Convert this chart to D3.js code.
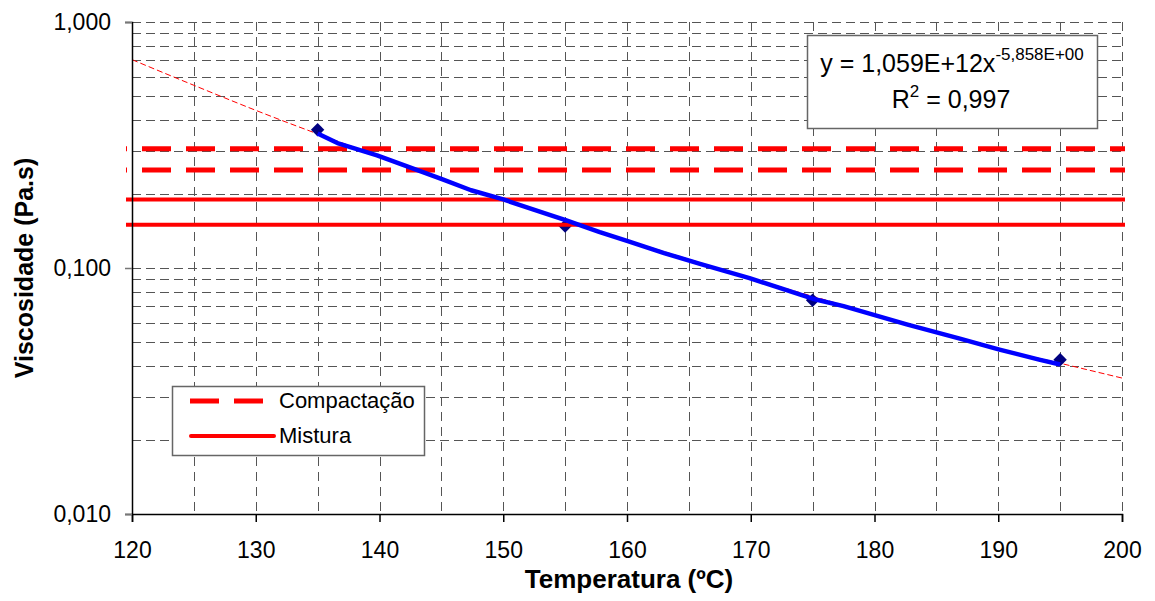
<!DOCTYPE html>
<html>
<head>
<meta charset="utf-8">
<script src="https://cdn.jsdelivr.net/npm/d3@7"></script>
<style>
  html, body { margin: 0; padding: 0; background: #fff; }
  #chart { width: 1155px; height: 601px; }
  text { font-family: "Liberation Sans", Arial, sans-serif; }
</style>
</head>
<body>
<div id="chart"></div>
<script>
// Viscosity x temperature (log scale)

// measured points (markers)
const pointTemps = [135, 155, 175, 195];
const pointVisc = [0.365, 0.148, 0.074, 0.0424];

// blue curve (measured line)
const curveTemps = [135, 136.6, 139.8, 142.4, 145.1, 147.4, 150, 153.5, 155.1, 157.8, 160, 163, 165.9, 169.9, 175, 177.5, 182.6, 186.9, 190.1, 193.3, 195];
const curveVisc = [0.352, 0.322, 0.287, 0.257, 0.229, 0.207, 0.190, 0.166, 0.156, 0.140, 0.129, 0.115, 0.104, 0.091, 0.075, 0.070, 0.059, 0.0516, 0.0466, 0.0424, 0.0405];

// power trend line (red thin dashed)
const trendTemps = [120, 125, 130, 140, 150, 160, 170, 180, 190, 195, 200];
const trendVisc = [0.703, 0.553, 0.4375, 0.284, 0.189, 0.130, 0.091, 0.065, 0.047, 0.041, 0.0357];

// reference limits
const compactacao = [0.305, 0.25];
const mistura = [0.19, 0.15];

// axes
const xTicks = [120, 130, 140, 150, 160, 170, 180, 190, 200];
const xGrid = [125, 130, 135, 140, 145, 150, 155, 160, 165, 170, 175, 180, 185, 190, 195, 200];
const yTicks = [0.01, 0.1, 1];
const yGrid = [0.02, 0.03, 0.04, 0.05, 0.06, 0.07, 0.08, 0.09, 0.1, 0.2, 0.3, 0.4, 0.5, 0.6, 0.7, 0.8, 0.9, 1];

const eqMain = "y = 1,059E+12x";
const eqExp = "-5,858E+00";
const r2Text = "= 0,997";

document.addEventListener('DOMContentLoaded', () => {
    drawChart();
});

function drawChart() {
    const width = 1155, height = 601;
    const left = 132, right = 1122, top = 22, bottom = 514;

    const svg = d3.select("#chart").append("svg")
        .attr("width", width)
        .attr("height", height);

    const x = d3.scaleLinear().domain([120, 200]).range([left, right]);
    const y = d3.scaleLog().domain([0.01, 1]).range([bottom, top]);

    // Gridlines
    const grid = svg.append("g").attr("shape-rendering", "crispEdges");
    grid.selectAll("line.h")
        .data(yGrid)
        .enter().append("line")
        .attr("x1", left).attr("x2", right)
        .attr("y1", d => Math.round(y(d)) + 0.5)
        .attr("y2", d => Math.round(y(d)) + 0.5)
        .attr("stroke", "#555")
        .attr("stroke-dasharray", "9,5");
    grid.selectAll("line.v")
        .data(xGrid)
        .enter().append("line")
        .attr("y1", top).attr("y2", bottom)
        .attr("x1", d => Math.round(x(d)) + 0.5)
        .attr("x2", d => Math.round(x(d)) + 0.5)
        .attr("stroke", "#555")
        .attr("stroke-dasharray", "9,6");

    // Trend line
    const line = d3.line().x(d => x(d[0])).y(d => y(d[1])).curve(d3.curveMonotoneX);
    svg.append("path")
        .datum(d3.zip(trendTemps, trendVisc))
        .attr("d", line)
        .attr("fill", "none")
        .attr("stroke", "#ff0000")
        .attr("stroke-width", 1)
        .attr("stroke-dasharray", "6,3");

    // Markers
    svg.selectAll("path.pt")
        .data(d3.zip(pointTemps, pointVisc))
        .enter().append("path")
        .attr("d", d3.symbol(d3.symbolSquare, 90))
        .attr("transform", d => `translate(${x(d[0])},${y(d[1])}) rotate(45)`)
        .attr("fill", "#000080");

    // Limit lines
    svg.selectAll("line.comp")
        .data(compactacao)
        .enter().append("line")
        .attr("x1", 126).attr("x2", 1125)
        .attr("y1", d => y(d)).attr("y2", d => y(d))
        .attr("stroke", "#ff0000")
        .attr("stroke-width", 5)
        .attr("stroke-dasharray", "29,15")
        .attr("stroke-dashoffset", 28);
    svg.selectAll("line.mist")
        .data(mistura)
        .enter().append("line")
        .attr("x1", 126).attr("x2", 1125)
        .attr("y1", d => y(d)).attr("y2", d => y(d))
        .attr("stroke", "#ff0000")
        .attr("stroke-width", 4);

    // Blue curve
    svg.append("path")
        .datum(d3.zip(curveTemps, curveVisc))
        .attr("d", d3.line().x(d => x(d[0])).y(d => y(d[1])))
        .attr("fill", "none")
        .attr("stroke", "#0000ff")
        .attr("stroke-width", 4.5)
        .attr("stroke-linejoin", "round");

    // Axes
    const xAxis = svg.append("g")
        .attr("transform", `translate(0,${bottom})`)
        .call(d3.axisBottom(x).tickValues(xTicks).tickSize(8).tickPadding(20).tickFormat(d3.format("d")));
    xAxis.select(".domain").attr("stroke", "#000").attr("stroke-width", 1.5);
    xAxis.selectAll(".tick line").attr("stroke", "#000").attr("stroke-width", 1.5);
    xAxis.selectAll(".tick text")
        .style("font-family", "'Liberation Sans', Arial, sans-serif")
        .style("font-size", "23px").attr("fill", "#000");

    const yAxis = svg.append("g")
        .attr("transform", `translate(${left},0)`)
        .call(d3.axisLeft(y).tickValues(yTicks).tickSize(7).tickPadding(14)
            .tickFormat(d => d.toFixed(3).replace(".", ",")));
    yAxis.select(".domain").attr("stroke", "#000").attr("stroke-width", 1.5);
    yAxis.selectAll(".tick line").attr("stroke", "#777").attr("stroke-width", 1.5);
    yAxis.selectAll(".tick text")
        .style("font-family", "'Liberation Sans', Arial, sans-serif")
        .style("font-size", "23px").attr("fill", "#000");

    // Axis titles
    svg.append("text")
        .attr("x", (left + right) / 2 + 2)
        .attr("y", 588)
        .attr("text-anchor", "middle")
        .style("font-size", "26px")
        .style("font-weight", "bold")
        .text("Temperatura (ºC)");
    svg.append("text")
        .attr("transform", `translate(33,${(top + bottom) / 2}) rotate(-90)`)
        .attr("text-anchor", "middle")
        .style("font-size", "25px")
        .style("font-weight", "bold")
        .text("Viscosidade (Pa.s)");

    // Equation box
    const eq = svg.append("g");
    eq.append("rect")
        .attr("x", 807.5).attr("y", 35.5)
        .attr("width", 290).attr("height", 93)
        .attr("fill", "#fff")
        .attr("stroke", "#666")
        .attr("stroke-width", 1.5);
    const eqText = eq.append("text")
        .attr("x", 952).attr("y", 72)
        .attr("text-anchor", "middle")
        .style("font-size", "25px");
    eqText.append("tspan").text(eqMain);
    eqText.append("tspan").attr("dy", -12).style("font-size", "17px").text(eqExp);
    const r2 = eq.append("text")
        .attr("x", 951).attr("y", 108)
        .attr("text-anchor", "middle")
        .style("font-size", "25px");
    r2.append("tspan").text("R");
    r2.append("tspan").attr("dy", -11).style("font-size", "17px").text("2");
    r2.append("tspan").attr("dy", 11).text(" " + r2Text);

    // Legend
    const legend = svg.append("g");
    legend.append("rect")
        .attr("x", 172.5).attr("y", 386.5)
        .attr("width", 252).attr("height", 69)
        .attr("fill", "#fff")
        .attr("stroke", "#666")
        .attr("stroke-width", 1.5);
    legend.append("line")
        .attr("x1", 190).attr("x2", 263)
        .attr("y1", 401).attr("y2", 401)
        .attr("stroke", "#ff0000")
        .attr("stroke-width", 5)
        .attr("stroke-dasharray", "29,15");
    legend.append("line")
        .attr("x1", 191).attr("x2", 274)
        .attr("y1", 436).attr("y2", 436)
        .attr("stroke", "#ff0000")
        .attr("stroke-width", 4)
        .attr("stroke-linecap", "round");
    legend.append("text")
        .attr("x", 279).attr("y", 408)
        .style("font-size", "22px")
        .text("Compactação");
    legend.append("text")
        .attr("x", 279).attr("y", 443)
        .style("font-size", "22px")
        .text("Mistura");
}
</script>
</body>
</html>
